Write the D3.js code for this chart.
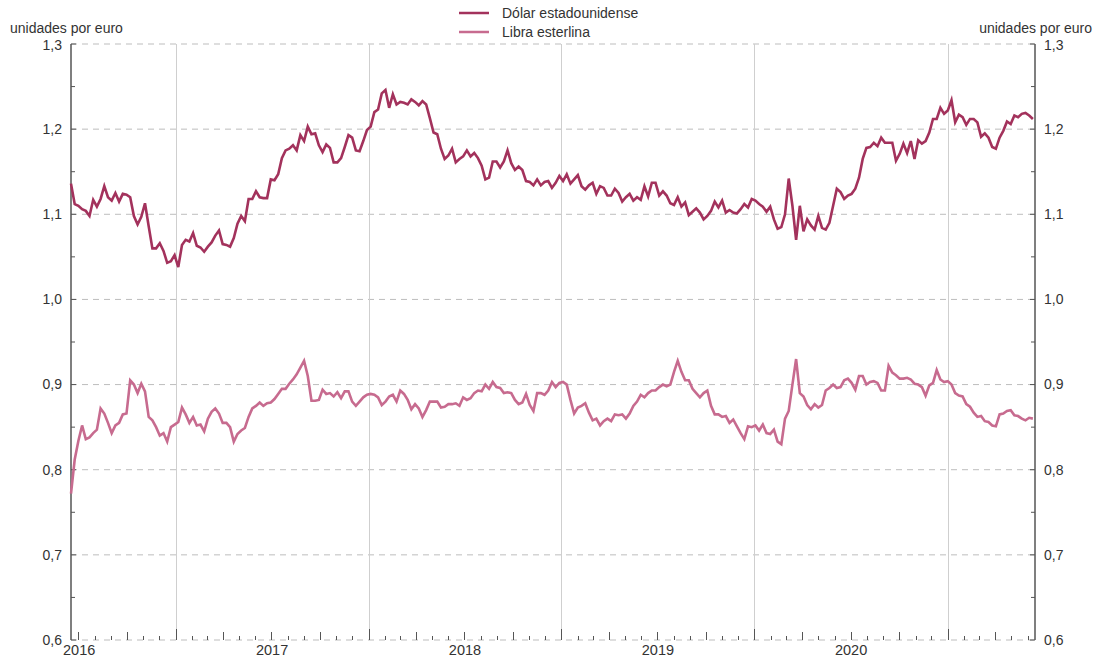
<!DOCTYPE html>
<html><head><meta charset="utf-8">
<script src="https://cdn.jsdelivr.net/npm/d3@7"></script>
<style>
body{margin:0;background:#fff;}
svg text{font-family:"Liberation Sans",Arial,sans-serif;fill:#333;}
</style></head>
<body><svg id="c" width="1097" height="657"></svg>
<script>
// Weekly (Friday) observations, first week 17 June 2016
const startDate = "2016-06-17";
const usd2016 = [1.136,1.112, 1.110,1.106,1.104,1.098,1.117, 1.109,1.118,1.133,1.120, 1.116,1.125,1.115,1.124,1.123, 1.120,1.098,1.088,1.097, 1.113,1.086,1.060,1.060, 1.066,1.057,1.043,1.045,1.052];
const usd2017 = [1.038,1.064,1.070,1.068, 1.078,1.063,1.061,1.056, 1.062,1.067,1.075,1.081,1.065, 1.064,1.062,1.072,1.089, 1.098,1.092,1.118,1.118, 1.127,1.120,1.119,1.119,1.141, 1.140,1.147,1.166,1.175, 1.177,1.181,1.175,1.193, 1.186,1.203,1.194,1.195,1.181, 1.173,1.182,1.178,1.161, 1.161,1.166,1.179,1.193, 1.190,1.175,1.174,1.186,1.199];
const usd2018 = [1.203,1.220,1.223,1.242, 1.246,1.225,1.241,1.229, 1.232,1.231,1.229,1.235,1.232, 1.228,1.233,1.229,1.213, 1.196,1.194,1.177,1.165, 1.169,1.177,1.161,1.165,1.168, 1.175,1.168,1.172,1.166, 1.157,1.141,1.143,1.162,1.162, 1.155,1.162,1.175,1.160, 1.152,1.156,1.152,1.139, 1.138,1.134,1.141,1.134,1.138, 1.139,1.131,1.137,1.145];
const usd2019 = [1.139,1.147,1.136,1.141, 1.146,1.133,1.129,1.134, 1.137,1.124,1.133,1.131,1.122, 1.122,1.130,1.125,1.115, 1.120,1.124,1.116,1.120,1.117, 1.133,1.121,1.137,1.137, 1.122,1.127,1.122,1.113, 1.111,1.120,1.109,1.114,1.099, 1.103,1.107,1.102,1.094, 1.098,1.104,1.115,1.108, 1.116,1.102,1.105,1.102,1.101, 1.106,1.112,1.108,1.118];
const usd2020 = [1.116,1.112,1.109,1.103,1.109, 1.094,1.083,1.085,1.100, 1.142,1.110,1.070,1.110, 1.080,1.094,1.087,1.082, 1.098,1.084,1.082,1.090,1.110, 1.130,1.126,1.118,1.122, 1.124,1.130,1.143,1.165,1.178, 1.179,1.184,1.180,1.190, 1.184,1.184,1.184,1.163, 1.171,1.183,1.172,1.186,1.165, 1.187,1.183,1.186,1.196, 1.212,1.212,1.225,1.218];
const usd2021 = [1.222,1.234,1.208,1.217,1.214, 1.205,1.212,1.212,1.208, 1.191,1.195,1.190,1.179, 1.177,1.190,1.198,1.209,1.206, 1.216,1.214,1.218,1.219, 1.216,1.212];

const gbp2016 = [0.772,0.812, 0.834,0.852,0.836,0.838,0.843, 0.847,0.872,0.866,0.855, 0.843,0.852,0.855,0.865,0.866, 0.905,0.900,0.890,0.901, 0.892,0.862,0.858,0.850, 0.840,0.843,0.833,0.850,0.853];
const gbp2017 = [0.856,0.873,0.865,0.855, 0.862,0.852,0.853,0.845, 0.860,0.868,0.872,0.866,0.855, 0.855,0.850,0.833,0.842, 0.846,0.849,0.862,0.872, 0.875,0.879,0.875,0.878,0.879, 0.883,0.889,0.895,0.895, 0.901,0.906,0.912,0.920, 0.928,0.910,0.881,0.881,0.882, 0.894,0.889,0.890,0.886, 0.891,0.884,0.892,0.892, 0.880,0.875,0.880,0.885,0.888];
const gbp2018 = [0.889,0.888,0.885,0.876, 0.880,0.886,0.888,0.880, 0.893,0.889,0.882,0.871,0.877, 0.872,0.862,0.870,0.880, 0.880,0.880,0.873,0.874, 0.877,0.877,0.878,0.875,0.885, 0.882,0.884,0.890,0.893, 0.892,0.900,0.895,0.903,0.897, 0.896,0.890,0.891,0.890, 0.882,0.877,0.879,0.889, 0.876,0.869,0.890,0.890,0.888, 0.893,0.903,0.897,0.902];
const gbp2019 = [0.903,0.900,0.882,0.866, 0.873,0.875,0.878,0.867, 0.858,0.860,0.852,0.857,0.860, 0.857,0.865,0.864,0.865, 0.860,0.866,0.875,0.880,0.888, 0.885,0.890,0.893,0.893, 0.897,0.900,0.898,0.900, 0.915,0.928,0.915,0.905,0.905, 0.895,0.890,0.885,0.890, 0.893,0.875,0.865,0.865, 0.862,0.863,0.855,0.859,0.851, 0.843,0.836,0.851,0.850];
const gbp2020 = [0.852,0.846,0.853,0.843,0.842, 0.847,0.833,0.830,0.860, 0.869,0.900,0.930,0.890, 0.886,0.876,0.871,0.877, 0.873,0.876,0.893,0.896,0.900, 0.896,0.897,0.905,0.907, 0.902,0.894,0.910,0.910,0.900, 0.903,0.904,0.902,0.893, 0.893,0.922,0.914,0.911, 0.907,0.907,0.908,0.906,0.901, 0.900,0.897,0.887,0.899, 0.902,0.917,0.906,0.903];
const gbp2021 = [0.904,0.900,0.890,0.887,0.886, 0.877,0.874,0.867,0.862, 0.863,0.857,0.856,0.852, 0.851,0.865,0.866,0.869,0.870, 0.864,0.863,0.860,0.858, 0.861,0.860];

const seriesNames = ["Dólar estadounidense", "Libra esterlina"];
const yTicks = [0.6,0.7,0.8,0.9,1.0,1.1,1.2,1.3];
const yearLabels = ["2016","2017","2018","2019","2020"];
const axisTitle = "unidades por euro";

const usd = [].concat(usd2016,usd2017,usd2018,usd2019,usd2020,usd2021);
const gbp = [].concat(gbp2016,gbp2017,gbp2018,gbp2019,gbp2020,gbp2021);
const t0 = d3.timeParse("%Y-%m-%d")(startDate);
const dates = usd.map((_,i)=>d3.timeDay.offset(t0, 7*i));

const W=1097,H=657, L=71, R=1035, T=44, B=640;
const svg = d3.select("#c");
const x = d3.scaleTime().domain([new Date(2016,5,17), new Date(2021,5,15)]).range([L,R]);
const y = d3.scaleLinear().domain([0.6,1.3]).range([B,T]);
const fmt = v => d3.format(".1f")(v).replace(".",",");

// horizontal dashed grid
svg.append("g").selectAll("line").data(yTicks).join("line")
  .attr("x1",L).attr("x2",R).attr("y1",d=>y(d)).attr("y2",d=>y(d))
  .attr("stroke","#bdbdbd").attr("stroke-width",1).attr("stroke-dasharray","6,5");

// vertical year lines
const years = d3.timeYear.range(new Date(2017,0,1), new Date(2021,1,1));
svg.append("g").selectAll("line").data(years).join("line")
  .attr("x1",d=>Math.round(x(d))+0.5).attr("x2",d=>Math.round(x(d))+0.5).attr("y1",T).attr("y2",B)
  .attr("stroke","#cfcfcf").attr("stroke-width",1);

// bottom month ticks
const months = d3.timeMonth.range(new Date(2016,6,1), new Date(2021,5,15));
svg.append("g").selectAll("line").data(months).join("line")
  .attr("x1",d=>Math.round(x(d))+0.5).attr("x2",d=>Math.round(x(d))+0.5)
  .attr("y1",B).attr("y2",d=> B - (d.getMonth()===0?11:(d.getMonth()%3===0?8:4)))
  .attr("stroke","#555").attr("stroke-width",1);

// y axes (left & right)
const minor = d3.range(0.65,1.3,0.1);
[L,R].forEach((px,k)=>{
  const dir = k===0?1:-1;
  const g = svg.append("g");
  g.append("line").attr("x1",px).attr("x2",px).attr("y1",T).attr("y2",B).attr("stroke","#555").attr("stroke-width",1.5);
  g.selectAll(".mj").data(yTicks).join("line").attr("class","mj")
    .attr("x1",px).attr("x2",px+dir*5).attr("y1",d=>y(d)).attr("y2",d=>y(d)).attr("stroke","#555");
  g.selectAll(".mn").data(minor).join("line").attr("class","mn")
    .attr("x1",px).attr("x2",px+dir*4).attr("y1",d=>y(d)).attr("y2",d=>y(d)).attr("stroke","#555");
  g.selectAll("text").data(yTicks).join("text")
    .attr("x",px - dir*9).attr("y",d=>y(d)).attr("dy",(d,i)=> i===yTicks.length-1 ? "0.45em" : "0.35em")
    .attr("text-anchor",k===0?"end":"start").attr("font-size",14).text(fmt);
});

// axis titles
svg.append("text").attr("x",10).attr("y",33).attr("font-size",14).text(axisTitle);
svg.append("text").attr("x",1092).attr("y",33).attr("text-anchor","end").attr("font-size",14).text(axisTitle);

// year labels
svg.append("g").selectAll("text").data(yearLabels).join("text")
  .attr("x",(d,i)=>{ if(i===0) return L-8; const a=x(new Date(+d,0,1)), b=x(new Date(+d+1,0,1)); return (a+b)/2; })
  .attr("text-anchor",(d,i)=>i===0?"start":"middle")
  .attr("y",655).attr("font-size",14.5).text(d=>d);

// series
const colors = ["#a3325c","#c76b8f"];
const line = d3.line().x((d,i)=>x(dates[i])).y(d=>y(d));
[usd,gbp].forEach((s,k)=>{
  svg.append("path").datum(s).attr("d",line).attr("fill","none")
    .attr("stroke",colors[k]).attr("stroke-width",2.6).attr("stroke-linejoin","miter");
});

// legend
const lg = svg.append("g");
seriesNames.forEach((n,k)=>{
  const yy = 13 + k*19;
  lg.append("line").attr("x1",459).attr("x2",489).attr("y1",yy).attr("y2",yy).attr("stroke",colors[k]).attr("stroke-width",2.5);
  lg.append("text").attr("x",502).attr("y",yy).attr("dy","0.35em").attr("font-size",14).text(n);
});
</script></body></html>
